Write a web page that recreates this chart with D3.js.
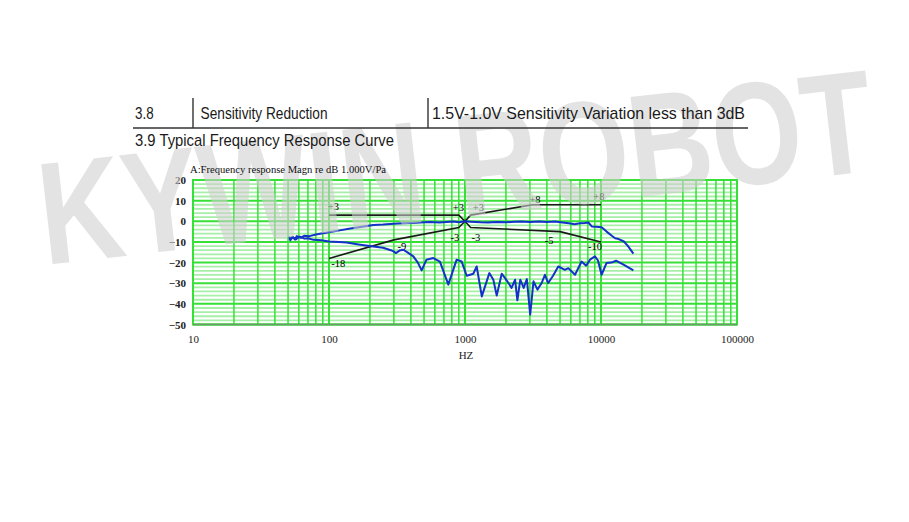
<!DOCTYPE html>
<html>
<head>
<meta charset="utf-8">
<script src="https://d3js.org/d3.v7.min.js"></script>
<style>
  body { margin: 0; background: #fff; }
  svg { display: block; }
</style>
</head>
<body>
<div id="container"></div>
<script>
// frequency response, upper curve (on axis)
var curveAFreq = [51, 52, 54, 56, 58, 62, 66, 72, 80, 90, 100, 120, 140, 170, 212, 250, 300, 350, 400, 470, 550, 650, 820, 900, 1000,
                  1100, 1300, 1480, 1700, 2000, 2300, 2600, 3000, 3500, 4000, 4600, 5200, 5800, 6400, 7000, 7600, 8070, 8550,
                  9200, 10100, 11000, 12000, 12700, 13500, 14750, 15800, 17300];
var curveADb = [-7.4, -9.2, -7.6, -8.8, -7.2, -8.0, -7.0, -7.2, -6.4, -5.8, -5.3, -4.4, -3.6, -2.8, -1.8, -1.6, -1.2, -1.0, -0.8, -0.6, -0.3, -0.6, -0.1, -0.5, 0,
                -0.2, -0.5, -0.6, -0.3, -0.5, -0.2, -0.1, -0.4, -0.1, -0.3, -0.1, -0.6, -1.0, -1.4, -1.0, -0.8, -0.6, -2.5,
                -2.6, -2.9, -5.0, -7.0, -8.2, -8.6, -9.8, -12.0, -15.7];

// lower curve
var curveBFreq = [51, 54, 57, 61, 66, 70, 77, 88, 100, 118, 135, 165, 212, 250, 285, 298, 310, 330, 352, 380, 417, 450, 480, 521,
                  584, 654, 754, 868, 945, 1030, 1151, 1219, 1329, 1510, 1616, 1711, 1862, 2025, 2200, 2335, 2427, 2550, 2700,
                  2850, 3015, 3190, 3410, 3660, 3870, 4090, 4440, 4850, 5430, 5750, 6440, 7200, 7780, 8300, 9030, 9500, 10100,
                  10990, 11900, 12900, 14750, 17300];
var curveBDb = [-9.0, -7.5, -8.8, -7.4, -8.4, -8.2, -9.0, -9.2, -9.8, -10.0, -10.3, -11.2, -12.2, -12.8, -14.0, -14.6, -15.4, -14.2, -13.8, -15.2, -17.0, -20.0, -23.8, -18.6,
                -17.8, -19.5, -30.7, -18.6, -19.5, -26.4, -25.4, -21.9, -36.4, -25.1, -28.3, -36.0, -25.4, -28.6, -32.3, -28.3, -38.3, -28.3, -32.3,
                -28.0, -45.2, -29.1, -33.1, -29.9, -25.9, -29.9, -26.4, -21.9, -23.5, -22.7, -25.9, -19.5, -21.5, -18.6, -17.0, -19.0, -25.9,
                -20.2, -20.0, -19.1, -21.1, -23.8];

// tolerance limits
var upperLimitFreq = [100, 900, 1000, 1100, 3150, 10000];
var upperLimitDb = [3, 3, 0, 3, 8, 8];
var lowerLimitFreq = [100, 300, 900, 1000, 1100, 5000, 10000];
var lowerLimitDb = [-18, -9, -3, 0, -3, -5, -10];

var limitLabelText = ["+3", "+3", "+3", "+8", "+8", "-3", "-3", "-5", "-10", "-18", "-9"];
var limitLabelFreq = [108, 893, 1253, 3270, 9660, 843, 1200, 4150, 9030, 117, 343];
var limitLabelDb = [7.1, 6.8, 6.8, 10.7, 12.3, -7.8, -7.8, -9.4, -12.3, -20.3, -12.3];

var xTickValues = [10, 100, 1000, 10000, 100000];
var yTickValues = [20, 10, 0, -10, -20, -30, -40, -50];

var margin = { top: 180, left: 193 },
    width = 544,
    height = 144.5;

var svg = d3.select("#container")
    .append("svg")
    .attr("width", 909)
    .attr("height", 522);

// scales
var x = d3.scaleLog()
    .domain([10, 100000])
    .range([0, width]);

var y = d3.scaleLinear()
    .domain([-50, 20])
    .range([height, 0]);

var g = svg.append("g")
    .attr("transform", "translate(" + margin.left + "," + margin.top + ")");

// grid
g.selectAll(".hminor")
    .data(d3.range(-48, 20, 2).filter(function(d) { return d % 10 != 0; }))
    .enter()
    .append("line")
    .attr("x1", 0).attr("x2", width)
    .attr("y1", function(d) { return y(d); })
    .attr("y2", function(d) { return y(d); })
    .attr("stroke", "#a6efa6")
    .attr("stroke-width", 1.8);

g.selectAll(".vgrid")
    .data(x.ticks())
    .enter()
    .append("line")
    .attr("y1", 0).attr("y2", height)
    .attr("x1", function(d) { return x(d); })
    .attr("x2", function(d) { return x(d); })
    .attr("stroke", "#36e036")
    .attr("stroke-width", function(d) { return xTickValues.indexOf(d) >= 0 ? 2 : 1.5; });

g.selectAll(".hmajor")
    .data(yTickValues)
    .enter()
    .append("line")
    .attr("x1", 0).attr("x2", width)
    .attr("y1", function(d) { return y(d); })
    .attr("y2", function(d) { return y(d); })
    .attr("stroke", "#36e036")
    .attr("stroke-width", 2);

g.append("rect")
    .attr("width", width)
    .attr("height", height)
    .attr("fill", "none")
    .attr("stroke", "#36e036")
    .attr("stroke-width", 2);

g.append("line")
    .attr("x1", 0).attr("x2", width)
    .attr("y1", height).attr("y2", height)
    .attr("stroke", "#6c9c6c")
    .attr("stroke-width", 1.5);

// watermark, over the grid but under texts and curves
svg.append("text")
    .attr("x", 45)
    .attr("y", 265)
    .attr("transform", "rotate(-6.5,45,265)")
    .attr("font-family", "'Liberation Sans', Arial, sans-serif")
    .attr("font-weight", "bold")
    .attr("font-size", 146)
    .attr("textLength", 838)
    .attr("lengthAdjust", "spacingAndGlyphs")
    .attr("fill", "#cfcfcf")
    .attr("opacity", 0.58)
    .text("KYWIN ROBOT");

// header table
var head = svg.append("g")
    .attr("font-family", "'Liberation Sans', Arial, sans-serif")
    .attr("font-size", 17)
    .attr("fill", "#1a1a1a");

head.append("text").attr("x", 135).attr("y", 119).attr("textLength", 18.6).attr("lengthAdjust", "spacingAndGlyphs").text("3.8");
head.append("text").attr("x", 200.6).attr("y", 119).attr("textLength", 127).attr("lengthAdjust", "spacingAndGlyphs").text("Sensitivity Reduction");
head.append("text").attr("x", 432).attr("y", 119).attr("textLength", 313).attr("lengthAdjust", "spacingAndGlyphs").text("1.5V-1.0V Sensitivity Variation less than 3dB");
head.append("text").attr("x", 135).attr("y", 146).attr("textLength", 259).attr("lengthAdjust", "spacingAndGlyphs").text("3.9 Typical Frequency Response Curve");

head.append("line").attr("x1", 133).attr("x2", 748).attr("y1", 128).attr("y2", 128)
    .attr("stroke", "#333").attr("stroke-width", 1.6);
head.append("line").attr("x1", 193).attr("x2", 193).attr("y1", 98).attr("y2", 128)
    .attr("stroke", "#333").attr("stroke-width", 1.4);
head.append("line").attr("x1", 428).attr("x2", 428).attr("y1", 98).attr("y2", 128)
    .attr("stroke", "#333").attr("stroke-width", 1.4);

// axes
var yAxis = g.append("g")
    .call(d3.axisLeft(y).tickValues(yTickValues).tickSize(0).tickPadding(7));
yAxis.select(".domain").remove();
yAxis.selectAll("text")
    .attr("font-family", "'Liberation Serif', 'Times New Roman', serif")
    .attr("font-size", 11)
    .attr("font-weight", "bold")
    .attr("fill", "#222");

var xAxis = g.append("g")
    .attr("transform", "translate(0," + height + ")")
    .call(d3.axisBottom(x).tickValues(xTickValues).tickFormat(function(d) { return d; }).tickSize(0).tickPadding(11));
xAxis.select(".domain").remove();
xAxis.selectAll("text")
    .attr("font-family", "'Liberation Serif', 'Times New Roman', serif")
    .attr("font-size", 11)
    .attr("fill", "#222");

svg.append("text")
    .attr("x", margin.left + x(1000) + 1)
    .attr("y", 359)
    .attr("text-anchor", "middle")
    .attr("font-family", "'Liberation Serif', 'Times New Roman', serif")
    .attr("font-size", 11)
    .attr("fill", "#222")
    .text("HZ");

svg.append("text")
    .attr("x", 190)
    .attr("y", 173)
    .attr("font-family", "'Liberation Serif', 'Times New Roman', serif")
    .attr("font-size", 10)
    .attr("textLength", 196)
    .attr("lengthAdjust", "spacingAndGlyphs")
    .attr("fill", "#111")
    .text("A:Frequency response Magn re dB 1.000V/Pa");

// tolerance lines
var line = d3.line()
    .x(function(d) { return x(d[0]); })
    .y(function(d) { return y(d[1]); });

g.append("path")
    .datum(d3.zip(upperLimitFreq, upperLimitDb))
    .attr("d", line)
    .attr("fill", "none")
    .attr("stroke", "#1a1a1a")
    .attr("stroke-width", 1.6);

g.append("path")
    .datum(d3.zip(lowerLimitFreq, lowerLimitDb))
    .attr("d", line)
    .attr("fill", "none")
    .attr("stroke", "#1a1a1a")
    .attr("stroke-width", 1.6);

g.selectAll(".limlabel")
    .data(d3.zip(limitLabelText, limitLabelFreq, limitLabelDb))
    .enter()
    .append("text")
    .attr("x", function(d) { return x(d[1]); })
    .attr("y", function(d) { return y(d[2]); })
    .attr("dy", "0.35em")
    .attr("text-anchor", "middle")
    .attr("font-family", "'Liberation Serif', 'Times New Roman', serif")
    .attr("font-size", 10.5)
    .attr("fill", "#000")
    .text(function(d) { return d[0]; });

// response curves
g.append("path")
    .datum(d3.zip(curveBFreq, curveBDb))
    .attr("d", line)
    .attr("fill", "none")
    .attr("stroke", "#1232c8")
    .attr("stroke-width", 2)
    .attr("stroke-linejoin", "round");

g.append("path")
    .datum(d3.zip(curveAFreq, curveADb))
    .attr("d", line)
    .attr("fill", "none")
    .attr("stroke", "#1232c8")
    .attr("stroke-width", 2)
    .attr("stroke-linejoin", "round");
</script>
</body>
</html>
